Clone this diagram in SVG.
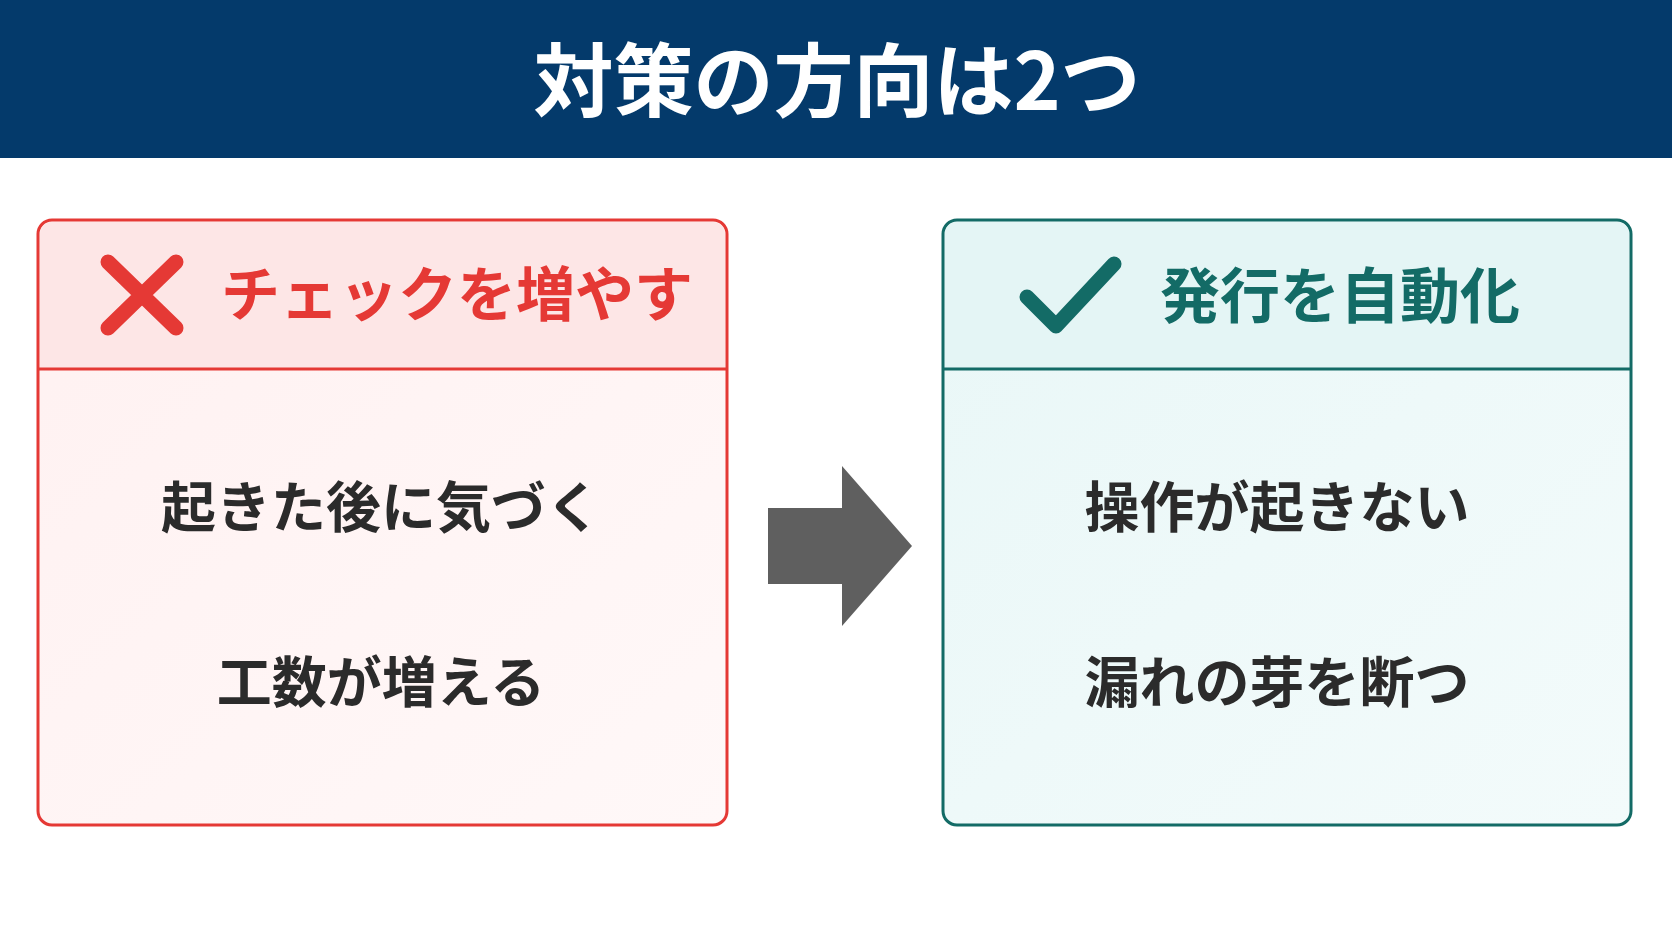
<svg xmlns="http://www.w3.org/2000/svg" width="1672" height="941" viewBox="0 0 1672 941">
<style>
text{font-family:"Noto Sans CJK JP","Noto Sans",sans-serif;font-weight:700;text-anchor:middle}
.body{font-size:55px;fill:#2b2b2b}
</style>
<defs>
<linearGradient id="pg" x1="0" y1="0" x2="1" y2="1"><stop offset="0" stop-color="#fff1f1"/><stop offset="1" stop-color="#fff8f8"/></linearGradient>
<linearGradient id="tg" x1="0" y1="0" x2="1" y2="1"><stop offset="0" stop-color="#e9f7f7"/><stop offset="1" stop-color="#f3fbfb"/></linearGradient>
</defs>
<rect width="1672" height="941" fill="#ffffff"/>
<g id="title"><rect width="1672" height="158" fill="#043a6b"/><text x="837" y="110" font-size="80" fill="#ffffff">対策の方向は2つ</text></g>
<g id="left">
<rect x="38" y="220" width="689" height="605" rx="14" fill="url(#pg)" stroke="#e53935" stroke-width="3"/>
<path d="M40 369V234a12 12 0 0 1 12-12H713a12 12 0 0 1 12 12V369Z" fill="#fde6e6"/>
<line x1="38" y1="369" x2="727" y2="369" stroke="#e53935" stroke-width="3"/>
<path d="M108 262L176 328M176 262L108 328" stroke="#e53935" stroke-width="15" stroke-linecap="round"/>
<text x="457" y="316" font-size="59" fill="#e53935">チェックを増やす</text>
<text x="381" y="527" class="body">起きた後に気づく</text>
<text x="381" y="702" class="body">工数が増える</text>
</g>
<g id="right">
<rect x="943" y="220" width="688" height="605" rx="14" fill="url(#tg)" stroke="#136b66" stroke-width="3"/>
<path d="M945 369V234a12 12 0 0 1 12-12H1617a12 12 0 0 1 12 12V369Z" fill="#e4f5f5"/>
<line x1="943" y1="369" x2="1631" y2="369" stroke="#136b66" stroke-width="3"/>
<path d="M1027 297L1056 326L1114 264" fill="none" stroke="#136b66" stroke-width="15" stroke-linecap="round" stroke-linejoin="round"/>
<text x="1340" y="318" font-size="60" fill="#136b66">発行を自動化</text>
<text x="1277" y="527" class="body">操作が起きない</text>
<text x="1277" y="702" class="body">漏れの芽を断つ</text>
</g>
<g id="connectors"><path d="M768 508H842V466L912 546L842 626V584H768Z" fill="#5f5f5f"/></g>
</svg>
